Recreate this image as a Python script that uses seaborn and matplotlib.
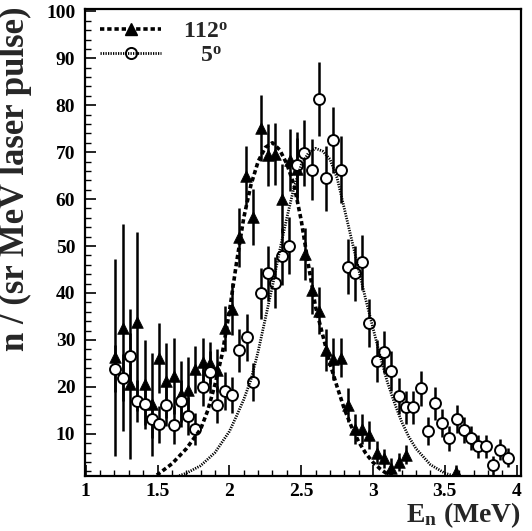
import numpy as np
import pandas as pd
import matplotlib
matplotlib.use("Agg")
import matplotlib.pyplot as plt
import seaborn as sns
from matplotlib.lines import Line2D
from matplotlib.ticker import MultipleLocator, FuncFormatter

# ---- data ----
tri_x = [1.207, 1.258, 1.307, 1.357, 1.410, 1.462, 1.510, 1.562, 1.613, 1.662,
         1.713, 1.764, 1.813, 1.864, 1.915, 1.969, 2.020, 2.068, 2.115, 2.166,
         2.217, 2.266, 2.317, 2.368, 2.420, 2.468, 2.526, 2.577, 2.625, 2.675,
         2.722, 2.775, 2.825, 2.875, 2.925, 2.974, 3.025, 3.077, 3.127, 3.178,
         3.230, 3.580]
tri_y = [26.3, 32.6, 20.6, 33.9, 20.5, 16.3, 26.1, 21.3, 22.3, 18.5,
         19.4, 23.7, 25.3, 25.1, 23.5, 32.5, 36.6, 51.9, 64.9, 56.2,
         75.1, 69.4, 69.7, 60.1, 68.3, 66.5, 48.3, 40.6, 36.2, 27.8,
         25.9, 26.2, 16.2, 11.0, 11.0, 9.8, 6.0, 4.8, 2.8, 4.0,
         5.5, 1.9]
tri_err = [21.0, 22.0, 16.0, 19.0, 9.5, 11.0, 7.5, 8.0, 8.0, 7.0,
           7.0, 5.0, 5.0, 4.5, 4.5, 4.8, 5.5, 6.3, 6.4, 6.0,
           7.0, 6.6, 6.6, 7.4, 6.6, 6.6, 5.5, 5.0, 5.0, 4.5,
           4.5, 4.2, 3.6, 3.2, 3.2, 3.0, 2.5, 2.0, 2.0, 2.0,
           2.0, 1.5]

circ_x = [1.207, 1.258, 1.307, 1.357, 1.410, 1.462, 1.510, 1.562, 1.613, 1.662,
          1.713, 1.764, 1.813, 1.864, 1.915, 1.969, 2.020, 2.068, 2.120, 2.166,
          2.217, 2.266, 2.317, 2.368, 2.417, 2.468, 2.520, 2.573, 2.624, 2.672,
          2.723, 2.775, 2.828, 2.875, 2.925, 2.974, 3.025, 3.077, 3.127, 3.178,
          3.230, 3.280, 3.332, 3.380, 3.432, 3.483, 3.532, 3.583, 3.631, 3.683,
          3.734, 3.787, 3.838, 3.887, 3.940]
circ_y = [23.9, 21.9, 26.5, 17.0, 16.4, 13.2, 12.0, 16.2, 11.9, 17.0,
          13.8, 11.0, 19.9, 23.1, 16.2, 19.1, 18.3, 27.8, 30.6, 21.0,
          39.9, 44.2, 42.2, 47.8, 50.1, 67.2, 69.8, 66.3, 81.4, 64.4,
          72.6, 66.3, 45.6, 44.2, 46.5, 33.6, 25.5, 27.5, 23.4, 18.0,
          15.6, 15.6, 19.7, 10.6, 16.5, 12.3, 9.0, 13.1, 10.8, 9.1,
          7.3, 7.3, 3.3, 6.6, 4.9]
circ_err = [5.0, 5.0, 5.0, 4.5, 4.5, 4.0, 4.0, 4.5, 4.0, 4.5,
            4.0, 3.5, 4.0, 4.5, 4.0, 4.0, 3.8, 4.6, 5.0, 4.0,
            5.5, 5.9, 5.5, 6.0, 6.0, 7.0, 7.0, 6.5, 7.9, 7.0,
            7.1, 7.1, 5.9, 5.9, 5.9, 5.2, 4.5, 4.5, 4.2, 3.8,
            3.5, 3.5, 3.7, 3.0, 3.5, 3.0, 2.7, 3.0, 2.8, 2.6,
            2.4, 2.4, 2.0, 2.2, 2.0]

fit112_x = [1.40, 1.45, 1.50, 1.60, 1.70, 1.80, 1.85, 1.90, 1.95, 2.00,
            2.05, 2.10, 2.15, 2.20, 2.25, 2.30, 2.35, 2.40, 2.45, 2.50,
            2.55, 2.60, 2.65, 2.70, 2.75, 2.80, 2.85, 2.90, 2.95, 3.00,
            3.05, 3.10, 3.15, 3.20]
fit112_y = [0.2, 0.5, 1.3, 3.6, 6.8, 11.0, 15.0, 20.5, 27.0, 36.0,
            46.5, 56.0, 63.0, 68.0, 71.0, 72.0, 70.5, 67.5, 63.0, 55.5,
            46.0, 37.0, 31.0, 25.0, 20.0, 15.3, 11.5, 8.3, 5.8, 3.9,
            2.5, 1.4, 0.7, 0.3]

fit5_x = [1.55, 1.60, 1.70, 1.80, 1.90, 2.00, 2.05, 2.10, 2.15, 2.20,
          2.25, 2.30, 2.35, 2.40, 2.45, 2.50, 2.55, 2.60, 2.65, 2.70,
          2.75, 2.80, 2.85, 2.90, 2.95, 3.00, 3.05, 3.10, 3.15, 3.20,
          3.25, 3.30, 3.40, 3.50, 3.60, 3.70]
fit5_y = [0.3, 0.5, 1.6, 3.2, 6.0, 10.5, 13.8, 17.3, 21.5, 27.5,
          34.5, 41.5, 49.0, 56.0, 62.5, 67.3, 69.8, 70.8, 70.2, 68.5,
          64.5, 58.0, 51.5, 45.0, 38.5, 32.5, 26.5, 21.0, 16.5, 12.5,
          9.3, 6.8, 3.4, 1.6, 0.7, 0.3]

labels = ["112$^{\\mathbf{o}}$", "   5$^{\\mathbf{o}}$"]
x_label = "E$_{\\mathbf{n}}$ (MeV)"
y_label = "n / (sr MeV laser pulse)"

# ---- style ----
sns.set_theme(style="ticks")
plt.rcParams['font.family'] = ['Liberation Serif', 'DejaVu Serif']
plt.rcParams['font.weight'] = 'bold'
plt.rcParams['mathtext.fontset'] = 'custom'
plt.rcParams['mathtext.rm'] = 'Liberation Serif:bold'
plt.rcParams['mathtext.bf'] = 'Liberation Serif:bold'
plt.rcParams['mathtext.it'] = 'Liberation Serif:bold'
plt.rcParams['mathtext.default'] = 'bf'

fig = plt.figure(figsize=(5.32, 5.31), dpi=100)
ax = fig.add_axes([85 / 532, 1 - 476 / 531, (521 - 85) / 532, (476 - 9) / 531])

df112 = pd.DataFrame({"x": fit112_x, "y": fit112_y})
df5 = pd.DataFrame({"x": fit5_x, "y": fit5_y})
dtri = pd.DataFrame({"x": tri_x, "y": tri_y, "e": tri_err})
dcirc = pd.DataFrame({"x": circ_x, "y": circ_y, "e": circ_err})

ax.errorbar(dtri.x, dtri.y, yerr=dtri.e, fmt='none', ecolor='black',
            elinewidth=1.8, capsize=0, zorder=2)
ax.errorbar(dcirc.x, dcirc.y, yerr=dcirc.e, fmt='none', ecolor='black',
            elinewidth=1.8, capsize=0, zorder=2)
sns.scatterplot(data=dtri, x="x", y="y", marker="^", s=70, color="black",
                edgecolor="black", linewidth=0.5, ax=ax, zorder=3)
sns.scatterplot(data=dcirc, x="x", y="y", marker="o", s=62, color="white",
                edgecolor="black", linewidth=1.4, ax=ax, zorder=4)
sns.lineplot(data=df112, x="x", y="y", color="black", lw=2.6, ax=ax,
             dashes=False, zorder=5, linestyle=(0, (1.2, 0.8)))
sns.lineplot(data=df5, x="x", y="y", color="black", lw=2.0, ax=ax,
             dashes=False, zorder=5, linestyle=(0, (0.45, 0.45)))

ax.set_xlim(0.995, 4.03)
ax.set_ylim(1, 100.5)
ax.xaxis.set_major_locator(MultipleLocator(0.5))
ax.xaxis.set_minor_locator(MultipleLocator(0.1))
ax.set_yticks([10, 20, 30, 40, 50, 60, 70, 80, 90, 100])
ax.yaxis.set_minor_locator(MultipleLocator(2))
ax.xaxis.set_major_formatter(FuncFormatter(lambda v, p: "%g" % v))
ax.yaxis.set_major_formatter(FuncFormatter(lambda v, p: "%g" % v))
ax.tick_params(which='both', direction='in', top=False, right=False,
               colors='black', labelsize=14)
ax.tick_params(which='major', length=8, width=1.2)
ax.tick_params(which='minor', length=4, width=1.0)
ax.tick_params(axis='x', pad=5)
ax.tick_params(axis='y', pad=7)
for lab in ax.get_xticklabels() + ax.get_yticklabels():
    lab.set_fontweight('bold')
for sp in ax.spines.values():
    sp.set_visible(True)
    sp.set_linewidth(1.6)
    sp.set_color('black')

ax.set_xlabel(x_label, fontsize=20, fontweight='bold', ha='right', x=1.0)
ax.set_ylabel(y_label, fontsize=25, fontweight='bold', ha='right', y=1.0)
ax.xaxis.set_label_coords(1.0, -0.052)
ax.yaxis.set_label_coords(-0.122, 1.005)

h112 = Line2D([], [], color='black', lw=2.6, linestyle=(0, (1.2, 0.8)),
              marker='^', markersize=9, markerfacecolor='black')
h5 = Line2D([], [], color='black', lw=2.0, linestyle=(0, (0.45, 0.45)),
            marker='o', markersize=8, markerfacecolor='none',
            markeredgewidth=1.4)
leg = ax.legend([h112, h5], labels, loc='upper left',
                bbox_to_anchor=(15 / 436, 0.974), frameon=False,
                handlelength=2.6, handletextpad=0.9, labelspacing=0.1,
                borderpad=0, borderaxespad=0,
                prop={'family': 'Liberation Serif', 'weight': 'bold', 'size': 17})

fig.savefig("out.png", dpi=100)
